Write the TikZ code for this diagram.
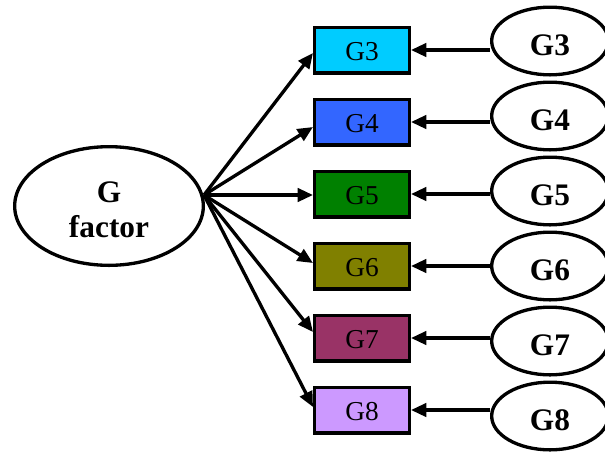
\documentclass[tikz,border=0pt]{standalone}
\usepackage{fontspec}
\setmainfont{Liberation Serif}
\usetikzlibrary{arrows.meta,shapes.geometric,calc}
\definecolor{gthree}{HTML}{00CCFF}
\definecolor{gfour}{HTML}{3366FF}
\definecolor{gfive}{HTML}{008000}
\definecolor{gsix}{HTML}{808000}
\definecolor{gseven}{HTML}{993366}
\definecolor{geight}{HTML}{CC99FF}
\begin{document}
\begin{tikzpicture}[x=0.75pt,y=-0.75pt,
  box/.style={draw=black, line width=2.5pt, minimum width=71pt,
    minimum height=34.25pt, inner sep=0pt, text height=16pt, text depth=0pt,
    font=\fontsize{20.5pt}{24pt}\selectfont},
  oval/.style={ellipse, draw=black, line width=2.5pt, minimum width=87.5pt,
    minimum height=50.75pt, inner sep=0pt, text height=21pt, text depth=0pt,
    font=\bfseries\fontsize{23.5pt}{27pt}\selectfont},
  bigoval/.style={ellipse, draw=black, line width=2.5pt, minimum width=141.5pt,
    minimum height=89pt, inner sep=0pt},
  bigtext/.style={align=center, inner sep=0pt,
    font=\bfseries\fontsize{23.5pt}{26.25pt}\selectfont},
  arr/.style={line width=2.5pt, -{Triangle[length=11.5pt,width=10pt]}}
]
\useasboundingbox (0,0) rectangle (605,454);

% latent factor
\node[bigoval] (gf) at (109,206) {};
\node[bigtext] (gft) at ($(gf.center)+(0,4)$) {G\\factor};
\coordinate (src) at (204,195);

% indicators, their error terms and the connecting paths
\foreach \i/\c/\d [count=\k from 0] in
  {3/gthree/3, 4/gfour/5, 5/gfive/1, 6/gsix/-3, 7/gseven/-6, 8/geight/-3} {
  \node[box, fill=\c] (b\i) at (362, 50+72*\k) {G\i};
  \node[oval] (e\i) at (550, 41+75*\k) {G\i};
  \draw[arr] (e\i.west |- b\i.east) -- (b\i.east);
  \draw[arr] (src) -- ($(b\i.west)+(0,\d)$);
}
\end{tikzpicture}
\end{document}
